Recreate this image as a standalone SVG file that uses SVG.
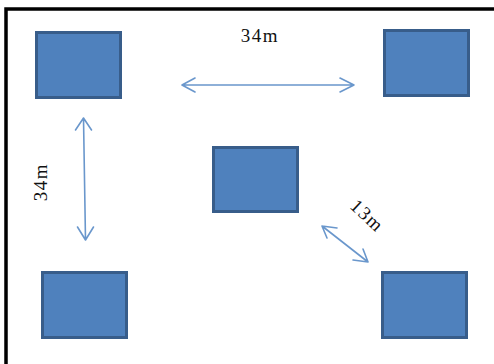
<svg xmlns="http://www.w3.org/2000/svg" width="494" height="364" viewBox="0 0 494 364">
<style>
.box{fill:#4f81bd;stroke:#385d8a;stroke-width:3}
.arr{fill:none;stroke:#6a97cc;stroke-width:1.6;stroke-linecap:round;stroke-linejoin:round}
text{font-family:"Liberation Serif",serif;font-size:19px;letter-spacing:1.500px;fill:#111}
</style>
<rect width="494" height="364" fill="#fff"/>
<path id="frame" d="M6 364V9H494" fill="none" stroke="#000" stroke-width="3.500"/>
<g id="node-top-left"><rect class="box" x="36.500" y="32.500" width="84" height="65"/></g>
<g id="node-top-right"><rect class="box" x="384.500" y="30.500" width="84" height="65"/></g>
<g id="node-center"><rect class="box" x="213.500" y="147.500" width="84" height="64"/></g>
<g id="node-bottom-left"><rect class="box" x="42.500" y="272.500" width="84" height="65"/></g>
<g id="node-bottom-right"><rect class="box" x="382.500" y="272.500" width="84" height="65"/></g>
<g id="connectors">
<path class="arr" d="M182 85H354M195 78L182 85L195 92M340 78L354 85L340 92"/>
<path class="arr" d="M83.500 118L85.500 240M75.500 130L83.500 118L91.500 130M77.500 227L85.500 240L93.500 227"/>
<path class="arr" d="M322 226L368 262M327 238L322 226L337 228M353 260L368 262L363 249"/>
</g>
<g id="labels">
<text x="260" y="42" text-anchor="middle">34m</text>
<text transform="translate(47 182) rotate(-90)" text-anchor="middle">34m</text>
<text transform="translate(367 216) rotate(43)" text-anchor="middle" y="6">13m</text>
</g>
</svg>
